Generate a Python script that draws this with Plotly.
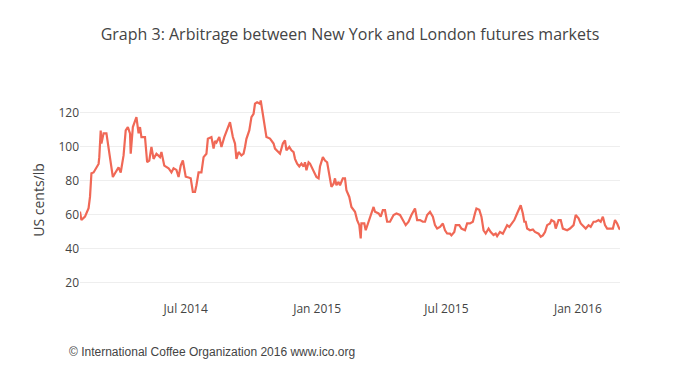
import plotly.graph_objects as go

dates = [
    "2014-02-03", "2014-02-05", "2014-02-10", "2014-02-15", "2014-02-17", "2014-02-19", "2014-02-22", "2014-02-26",
    "2014-03-01", "2014-03-02", "2014-03-04", "2014-03-05", "2014-03-08", "2014-03-12", "2014-03-15", "2014-03-17",
    "2014-03-21", "2014-03-24", "2014-03-29", "2014-04-01", "2014-04-05", "2014-04-08", "2014-04-11", "2014-04-14",
    "2014-04-15", "2014-04-18", "2014-04-21", "2014-04-23", "2014-04-26", "2014-04-28", "2014-04-30", "2014-05-05",
    "2014-05-08", "2014-05-11", "2014-05-14", "2014-05-17", "2014-05-21", "2014-05-26", "2014-05-28", "2014-06-01",
    "2014-06-07", "2014-06-11", "2014-06-14", "2014-06-18", "2014-06-21", "2014-06-24", "2014-06-27", "2014-06-29",
    "2014-07-01", "2014-07-05", "2014-07-08", "2014-07-11", "2014-07-14", "2014-07-16", "2014-07-19", "2014-07-23",
    "2014-07-26", "2014-07-30", "2014-08-01", "2014-08-06", "2014-08-09", "2014-08-11", "2014-08-13", "2014-08-17",
    "2014-08-20", "2014-08-24", "2014-08-27", "2014-09-01", "2014-09-05", "2014-09-08", "2014-09-10", "2014-09-13",
    "2014-09-17", "2014-09-20", "2014-09-22", "2014-09-24", "2014-09-28", "2014-10-01", "2014-10-04", "2014-10-06",
    "2014-10-09", "2014-10-13", "2014-10-14", "2014-10-15", "2014-10-18", "2014-10-20", "2014-10-22", "2014-10-27",
    "2014-11-01", "2014-11-03", "2014-11-08", "2014-11-10", "2014-11-14", "2014-11-17", "2014-11-19", "2014-11-23",
    "2014-11-26", "2014-11-29", "2014-12-01", "2014-12-04", "2014-12-07", "2014-12-10", "2014-12-13", "2014-12-15",
    "2014-12-17", "2014-12-20", "2014-12-22", "2014-12-27", "2014-12-31", "2015-01-03", "2015-01-05", "2015-01-09",
    "2015-01-12", "2015-01-15", "2015-01-18", "2015-01-21", "2015-01-24", "2015-01-26", "2015-01-28", "2015-01-31",
    "2015-02-02", "2015-02-06", "2015-02-09", "2015-02-11", "2015-02-15", "2015-02-18", "2015-02-23", "2015-02-26",
    "2015-03-01", "2015-03-03", "2015-03-04", "2015-03-08", "2015-03-10", "2015-03-14", "2015-03-17", "2015-03-21",
    "2015-03-23", "2015-03-28", "2015-03-31", "2015-04-03", "2015-04-06", "2015-04-09", "2015-04-13", "2015-04-18",
    "2015-04-22", "2015-04-27", "2015-05-01", "2015-05-05", "2015-05-09", "2015-05-13", "2015-05-18", "2015-05-21",
    "2015-05-25", "2015-05-29", "2015-06-01", "2015-06-04", "2015-06-08", "2015-06-12", "2015-06-15", "2015-06-18",
    "2015-06-22", "2015-06-26", "2015-06-29", "2015-07-02", "2015-07-06", "2015-07-08", "2015-07-12", "2015-07-14",
    "2015-07-19", "2015-07-22", "2015-07-27", "2015-07-30", "2015-08-03", "2015-08-07", "2015-08-10", "2015-08-12",
    "2015-08-16", "2015-08-19", "2015-08-22", "2015-08-25", "2015-08-29", "2015-09-01", "2015-09-05", "2015-09-08",
    "2015-09-10", "2015-09-14", "2015-09-18", "2015-09-21", "2015-09-24", "2015-09-27", "2015-09-30", "2015-10-04",
    "2015-10-07", "2015-10-11", "2015-10-13", "2015-10-16", "2015-10-18", "2015-10-20", "2015-10-22", "2015-10-26",
    "2015-10-30", "2015-11-02", "2015-11-07", "2015-11-10", "2015-11-13", "2015-11-16", "2015-11-19", "2015-11-23",
    "2015-11-25", "2015-11-29", "2015-12-01", "2015-12-05", "2015-12-08", "2015-12-11", "2015-12-14", "2015-12-17",
    "2015-12-21", "2015-12-26", "2015-12-29", "2016-01-02", "2016-01-05", "2016-01-09", "2016-01-12", "2016-01-16",
    "2016-01-19", "2016-01-23", "2016-01-26", "2016-01-30", "2016-02-02", "2016-02-05", "2016-02-08", "2016-02-11",
    "2016-02-15", "2016-02-19", "2016-02-22", "2016-02-25", "2016-02-28", "2016-02-29",
]

arbitrage = [
    62, 57, 59, 64, 70.6, 84.5, 85, 87.5,
    90, 94, 109.7, 102, 108, 108, 99, 95,
    82.3, 84.5, 88, 85, 95, 109.7, 111.7, 108,
    96, 111.7, 115.6, 117.5, 108, 111.7, 105.8, 105.8,
    91, 92, 100, 93, 96, 94, 97, 89,
    87.5, 85, 87.5, 86.5, 82.3, 89, 92, 86.5,
    82.5, 82, 81.6, 73.5, 73.5, 77.5, 85, 85,
    94, 96, 104.8, 105.8, 99, 103.5, 102.6, 105.8,
    100, 105.8, 108.8, 114.6, 105.8, 102, 93, 97,
    95, 96, 100, 104.8, 109.7, 117.5, 119.5, 125.4,
    126.3, 125.4, 127.3, 124.6, 117.5, 111.7, 105.8, 104.9,
    102, 99, 97, 96, 102, 103.9, 98, 100,
    98, 97, 93, 90.2, 88.5, 90.2, 88.5, 91,
    86.3, 91, 90.2, 86.3, 82.3, 81.5, 88.5, 94,
    92, 91, 84.3, 76.5, 78.4, 81.5, 77.5, 79.4,
    77.5, 81.5, 81.5, 74.5, 70.6, 64.7, 61.9, 57,
    54, 46.2, 55, 55, 51, 56, 60, 64.7,
    61.9, 60.9, 59, 62.8, 62.8, 56, 56, 60,
    60.9, 60, 57, 54, 56, 60, 63.8, 57,
    57, 56, 56, 60, 61.8, 59, 54, 52,
    53, 55, 51, 49.1, 49, 48, 50, 54,
    54, 52, 51, 55, 55, 56, 61, 63.8,
    63, 59, 51, 49.1, 52, 50, 48.2, 49,
    47.5, 50, 49, 52, 54, 53, 55, 57,
    60, 63.8, 65.7, 60.9, 56, 56, 52, 51,
    51.5, 50, 49, 47.2, 48, 50, 54, 55,
    57, 56, 52, 57, 57, 52, 51.5, 51,
    52, 54, 60, 58, 55, 53, 52, 54,
    53, 56, 56, 57, 56, 59, 54, 52,
    52, 52, 57, 55, 52, 51.5,
]

y_ticks = [20, 40, 60, 80, 100, 120]

title_text = "Graph 3: Arbitrage between New York and London futures markets"
y_title = "US cents/lb"
source_text = "© International Coffee Organization 2016 www.ico.org"

fig = go.Figure()
fig.add_trace(go.Scatter(
    x=dates, y=arbitrage, mode="lines",
    line=dict(color="rgb(240,104,86)", width=2.2),
    showlegend=False,
))

fig.update_layout(
    width=700, height=380,
    margin=dict(l=72, r=88, t=92, b=88),
    paper_bgcolor="white", plot_bgcolor="white",
    font=dict(family="Open Sans, sans-serif", size=12, color="#444"),
    title=dict(text=title_text, xref="container", x=342 / 700, xanchor="center",
               yref="container", y=1 - 26 / 380, yanchor="middle",
               font=dict(family="Open Sans, sans-serif", size=16, color="#444")),
    xaxis=dict(
        type="date", dtick="M6", tick0="2014-01-01", tickformat="%b %Y",
        showgrid=False, zeroline=False, showline=False, ticks="",
        range=["2014-02-03", "2016-02-29"],
        tickfont=dict(size=12, color="#444"),
    ),
    yaxis=dict(
        title=dict(text=y_title, font=dict(size=14, color="#444"), standoff=10),
        tickvals=y_ticks, range=[10, 127.6],
        showgrid=True, gridcolor="#eeeeee", zeroline=False, showline=False, ticks="",
        tickfont=dict(size=12, color="#444"),
    ),
    annotations=[dict(
        text=source_text, xref="paper", yref="paper", x=-0.024, y=-0.26,
        xanchor="left", yanchor="middle", showarrow=False,
        font=dict(family="Liberation Sans, Arial, sans-serif", size=12, color="#444"),
    )],
)

fig.write_html("out.html")
